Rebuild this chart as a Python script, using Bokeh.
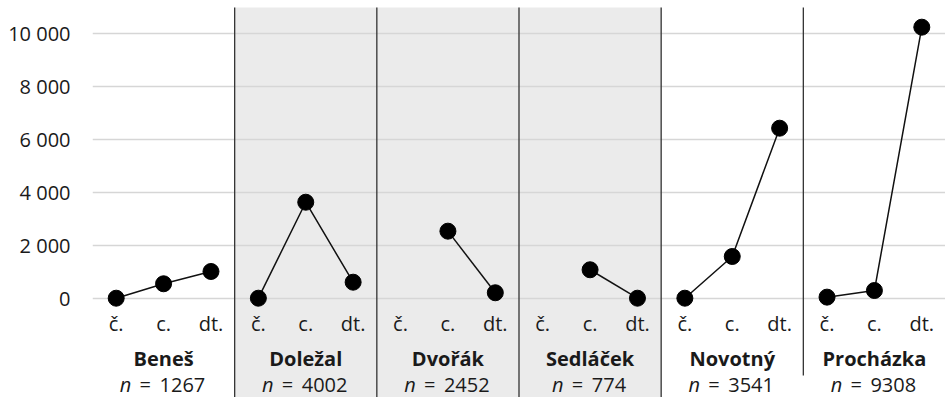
from bokeh.plotting import figure
from bokeh.models import Range1d, FixedTicker, BoxAnnotation
from bokeh.core.properties import value
from bokeh.embed import file_html
from bokeh.resources import INLINE

nan = float("nan")

# ---- data ----
names = ["Beneš", "Doležal", "Dvořák", "Sedláček", "Novotný", "Procházka"]
counts = [1267, 4002, 2452, 774, 3541, 9308]
categories = ["č.", "c.", "dt."]
values_cz = [0, 0, nan, nan, 0, 40]          # č.
values_c = [545, 3630, 2535, 1075, 1577, 290]  # c.
values_dt = [1010, 605, 205, 0, 6430, 10250]   # dt.
shaded = [False, True, True, True, False, False]
y_ticks = [0, 2000, 4000, 6000, 8000, 10000]
y_tick_labels = ["0", "2 000", "4 000", "6 000", "8 000", "10 000"]

# ---- layout constants ----
FONT = "Open Sans"
FS = 20
TXT = "#1a1a1a"
Y_MIN, Y_MAX = -3756, 11259
Y_TOP = 10995
Y_CAT = -970
Y_NAME = -2270
Y_N = -3270
SEP_BOTTOM_SHORT = -2924
GAP = 8.5

ncat = len(categories)
npan = len(names)

p = figure(width=945, height=397, output_backend="svg", toolbar_location=None,
           x_range=Range1d(0, npan * ncat), y_range=Range1d(Y_MIN, Y_MAX),
           x_axis_location=None, min_border_left=92, min_border_right=0,
           min_border_top=0, min_border_bottom=0)
p.outline_line_color = None
p.background_fill_color = "white"
p.border_fill_color = "white"

# shaded panels
i = 0
while i < npan:
    if shaded[i]:
        j = i
        while j < npan and shaded[j]:
            j += 1
        p.add_layout(BoxAnnotation(left=i * ncat, right=j * ncat, top=Y_TOP,
                                   fill_color="#ebebeb", fill_alpha=1.0,
                                   line_color=None, level="image"))
        i = j
    else:
        i += 1

# y axis / grid
p.yaxis.ticker = FixedTicker(ticks=y_ticks)
p.yaxis.major_label_overrides = {t: l for t, l in zip(y_ticks, y_tick_labels)}
p.yaxis.axis_line_color = None
p.yaxis.major_tick_line_color = None
p.yaxis.minor_tick_line_color = None
p.yaxis.major_label_text_font = FONT
p.yaxis.major_label_text_font_size = f"{FS}px"
p.yaxis.major_label_text_color = TXT
p.yaxis.major_label_standoff = 16
p.xgrid.visible = False
p.ygrid.grid_line_color = "#d6d6d6"
p.ygrid.grid_line_width = 1.6

# separators
seps = [k * ncat for k in range(1, npan)]
sep_bottoms = [Y_MIN] * (npan - 2) + [SEP_BOTTOM_SHORT]
p.segment(x0=seps, y0=sep_bottoms, x1=seps, y1=[Y_TOP] * len(seps),
          line_color="#333333", line_width=1.3)

# series
for k in range(npan):
    xs = [k * ncat + j + 0.5 for j in range(ncat)]
    ys = [values_cz[k], values_c[k], values_dt[k]]
    p.line(xs, ys, line_color="#111111", line_width=1.5)
    p.scatter(xs, ys, size=16, fill_color="black", line_color="black")

# category labels
cx = [k * ncat + j + 0.5 for k in range(npan) for j in range(ncat)]
ct = [categories[j] for k in range(npan) for j in range(ncat)]
p.text(x=cx, y=[Y_CAT] * len(cx), text=ct, text_align="center", text_baseline="alphabetic",
       text_font=value(FONT), text_font_size=f"{FS}px", text_color=TXT)

# panel names
px = [k * ncat + ncat / 2 for k in range(npan)]
p.text(x=px, y=[Y_NAME] * npan, text=names, text_align="center", text_baseline="alphabetic",
       text_font=value(FONT), text_font_size=f"{FS}px", text_font_style="bold", text_color=TXT)

# n = ... lines (italic n, "=", number)
def w(s):
    W = {"n": 0.564, "=": 0.572}
    return sum(W.get(ch, 0.572) for ch in s) * FS

nums = [str(c) for c in counts]
n_off, e_off, v_off = [], [], []
for s in nums:
    total = w("n") + GAP + w("=") + GAP + w(s)
    start = -total / 2 - 1
    n_off.append(start)
    e_off.append(start + w("n") + GAP)
    v_off.append(start + w("n") + GAP + w("=") + GAP)

common = dict(text_align="left", text_baseline="alphabetic", text_font=value(FONT),
              text_font_size=f"{FS}px", text_color=TXT)
p.text(x=px, y=[Y_N] * npan, text=["n"] * npan, x_offset=n_off,
       text_font_style="italic", **common)
p.text(x=px, y=[Y_N] * npan, text=["="] * npan, x_offset=e_off, **common)
p.text(x=px, y=[Y_N] * npan, text=nums, x_offset=v_off, **common)

open("out.html", "w").write(file_html(p, INLINE))
